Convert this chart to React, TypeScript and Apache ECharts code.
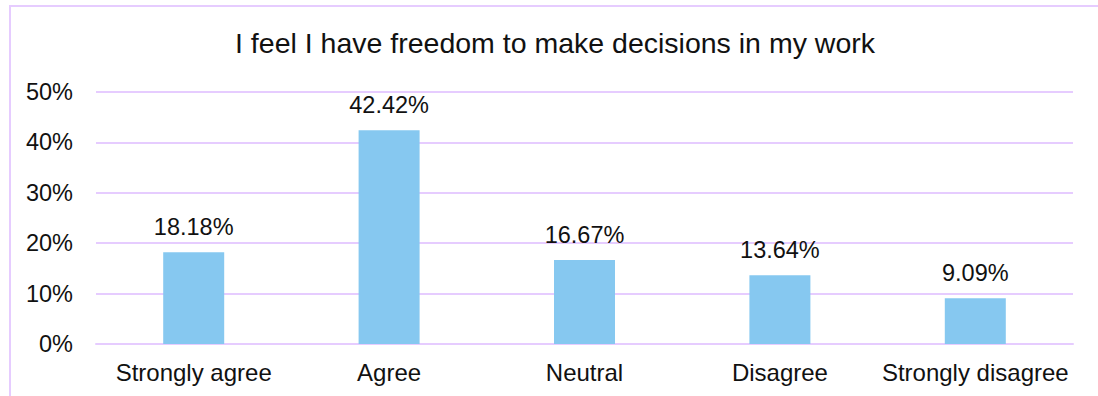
import React, { useEffect, useRef } from "react";
import * as echarts from "echarts";

const categories = ["Strongly agree", "Agree", "Neutral", "Disagree", "Strongly disagree"];
const values = [18.18, 42.42, 16.67, 13.64, 9.09];
const yTicks = [0, 10, 20, 30, 40, 50];
const titleText = "I feel I have freedom to make decisions in my work";

const FONT = "'Liberation Sans', Arial, sans-serif";
const LINE = "#E6CCFF";

export default function App() {
  const ref = useRef<HTMLDivElement>(null);
  useEffect(() => {
    if (!ref.current) return;
    const chart = echarts.init(ref.current, null, { renderer: "svg" });
    chart.setOption({
      animation: false,
      backgroundColor: "#fff",
      title: {
        text: titleText,
        left: 555,
        top: 28,
        textAlign: "center",
        padding: 0,
        textStyle: { fontFamily: FONT, fontSize: 28.5, fontWeight: "normal", color: "#111" },
      },
      graphic: [
        {
          type: "rect",
          shape: { x: 10, y: 6, width: 1200, height: 500 },
          style: { fill: "none", stroke: LINE, lineWidth: 2 },
          silent: true,
        },
      ],
      grid: { left: 96, right: 25, top: 92, bottom: 52, containLabel: false },
      xAxis: {
        type: "category",
        data: categories,
        axisLine: { show: true, lineStyle: { color: LINE, width: 2 } },
        axisTick: { show: false },
        axisLabel: { fontFamily: FONT, fontSize: 24, color: "#111", margin: 16, interval: 0 },
      },
      yAxis: {
        type: "value",
        min: yTicks[0],
        max: yTicks[yTicks.length - 1],
        interval: 10,
        axisLine: { show: false },
        axisTick: { show: false },
        splitLine: { lineStyle: { color: LINE, width: 2 } },
        axisLabel: {
          fontFamily: FONT,
          fontSize: 23.5,
          color: "#111",
          margin: 23,
          formatter: (v: number) => `${v}%`,
        },
      },
      series: [
        {
          type: "bar",
          data: values,
          barWidth: 61,
          itemStyle: { color: "#86C8F0" },
          label: {
            show: true,
            position: "top",
            distance: 13,
            fontFamily: FONT,
            fontSize: 23.5,
            color: "#111",
            formatter: (p: any) => `${p.value.toFixed(2)}%`,
          },
        },
      ],
    });
    return () => chart.dispose();
  }, []);
  return (
    <div
      ref={ref}
      style={{ position: "absolute", left: 0, top: 0, width: 1098, height: 396 }}
    />
  );
}
